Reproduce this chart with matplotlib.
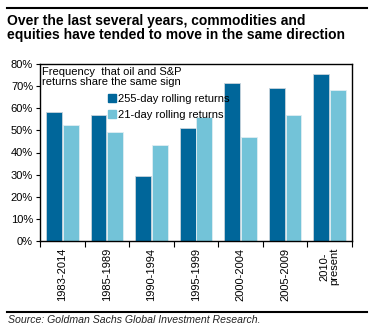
import numpy as np
import matplotlib.pyplot as plt
from matplotlib.lines import Line2D

plt.rcParams['font.family'] = ['Liberation Sans', 'DejaVu Sans']

periods = ['1983-2014', '1985-1989', '1990-1994', '1995-1999',
           '2000-2004', '2005-2009', '2010-\npresent']
rolling_255 = [58.5, 57.1, 29.6, 51.2, 71.6, 69.1, 75.5]
rolling_21 = [52.6, 49.4, 43.3, 56.2, 47.0, 56.8, 68.4]

dark = '#00669A'
light = '#73C3D8'

fig = plt.figure(figsize=(3.73, 3.32), dpi=100)
ax = fig.add_axes([40 / 373, 1 - 241 / 332, 312 / 373, 177 / 332])

x = np.arange(len(periods))
w = 0.355
ax.bar(x - w / 2 - 0.01, rolling_255, w, color=dark, edgecolor='#c8d4dc', linewidth=0.6)
ax.bar(x + w / 2 + 0.01, rolling_21, w, color=light, edgecolor='#e0eef3', linewidth=0.6)

ax.set_xlim(-0.5, len(periods) - 0.5)
ax.set_ylim(0, 80)
ax.set_yticks(range(0, 81, 10))
ax.set_yticklabels([f'{v}%' for v in range(0, 81, 10)], fontsize=8)
ax.set_xticks(x)
ax.set_xticklabels(periods, rotation=90, fontsize=8, va='top', ha='center',
                   multialignment='center', linespacing=0.95)
ax.tick_params(axis='x', length=0, pad=5)
ax.set_xticks(np.arange(-0.5, len(periods), 1), minor=True)
ax.tick_params(axis='x', which='minor', length=4, direction='out', width=0.8)
ax.tick_params(axis='y', length=3, direction='out', width=0.8, pad=2)
for s in ax.spines.values():
    s.set_linewidth(1.0)

ax.text(0.005, 0.985, 'Frequency  that oil and S&P\nreturns share the same sign',
        transform=ax.transAxes, fontsize=8, va='top', ha='left', linespacing=1.05)
handles = [Line2D([], [], marker='s', color=dark, ls='', markersize=6),
           Line2D([], [], marker='s', color=light, ls='', markersize=6)]
ax.legend(handles, ['255-day rolling returns', '21-day rolling returns'],
          loc='upper left', bbox_to_anchor=(0.215, 0.83), frameon=False,
          fontsize=8, handlelength=0.8, handletextpad=0.2, labelspacing=0.5,
          borderpad=0, borderaxespad=0)

fig.add_artist(Line2D([7 / 373, 367 / 373], [1 - 8 / 332, 1 - 8 / 332], color='black', lw=1.5))
fig.text(7 / 373, 1 - 13.5 / 332, 'Over the last several years, commodities and\n'
         'equities have tended to move in the same direction',
         fontsize=10, fontweight='bold', va='top', ha='left', linespacing=1.0)

fig.add_artist(Line2D([7 / 373, 367 / 373], [1 - 312 / 332, 1 - 312 / 332], color='black', lw=1.5))
fig.text(8 / 373, 1 - 320 / 332, 'Source: Goldman Sachs Global Investment Research.',
         fontsize=7.6, style='italic', va='center', ha='left', color='#222222')

fig.savefig('out.png', dpi=100)
